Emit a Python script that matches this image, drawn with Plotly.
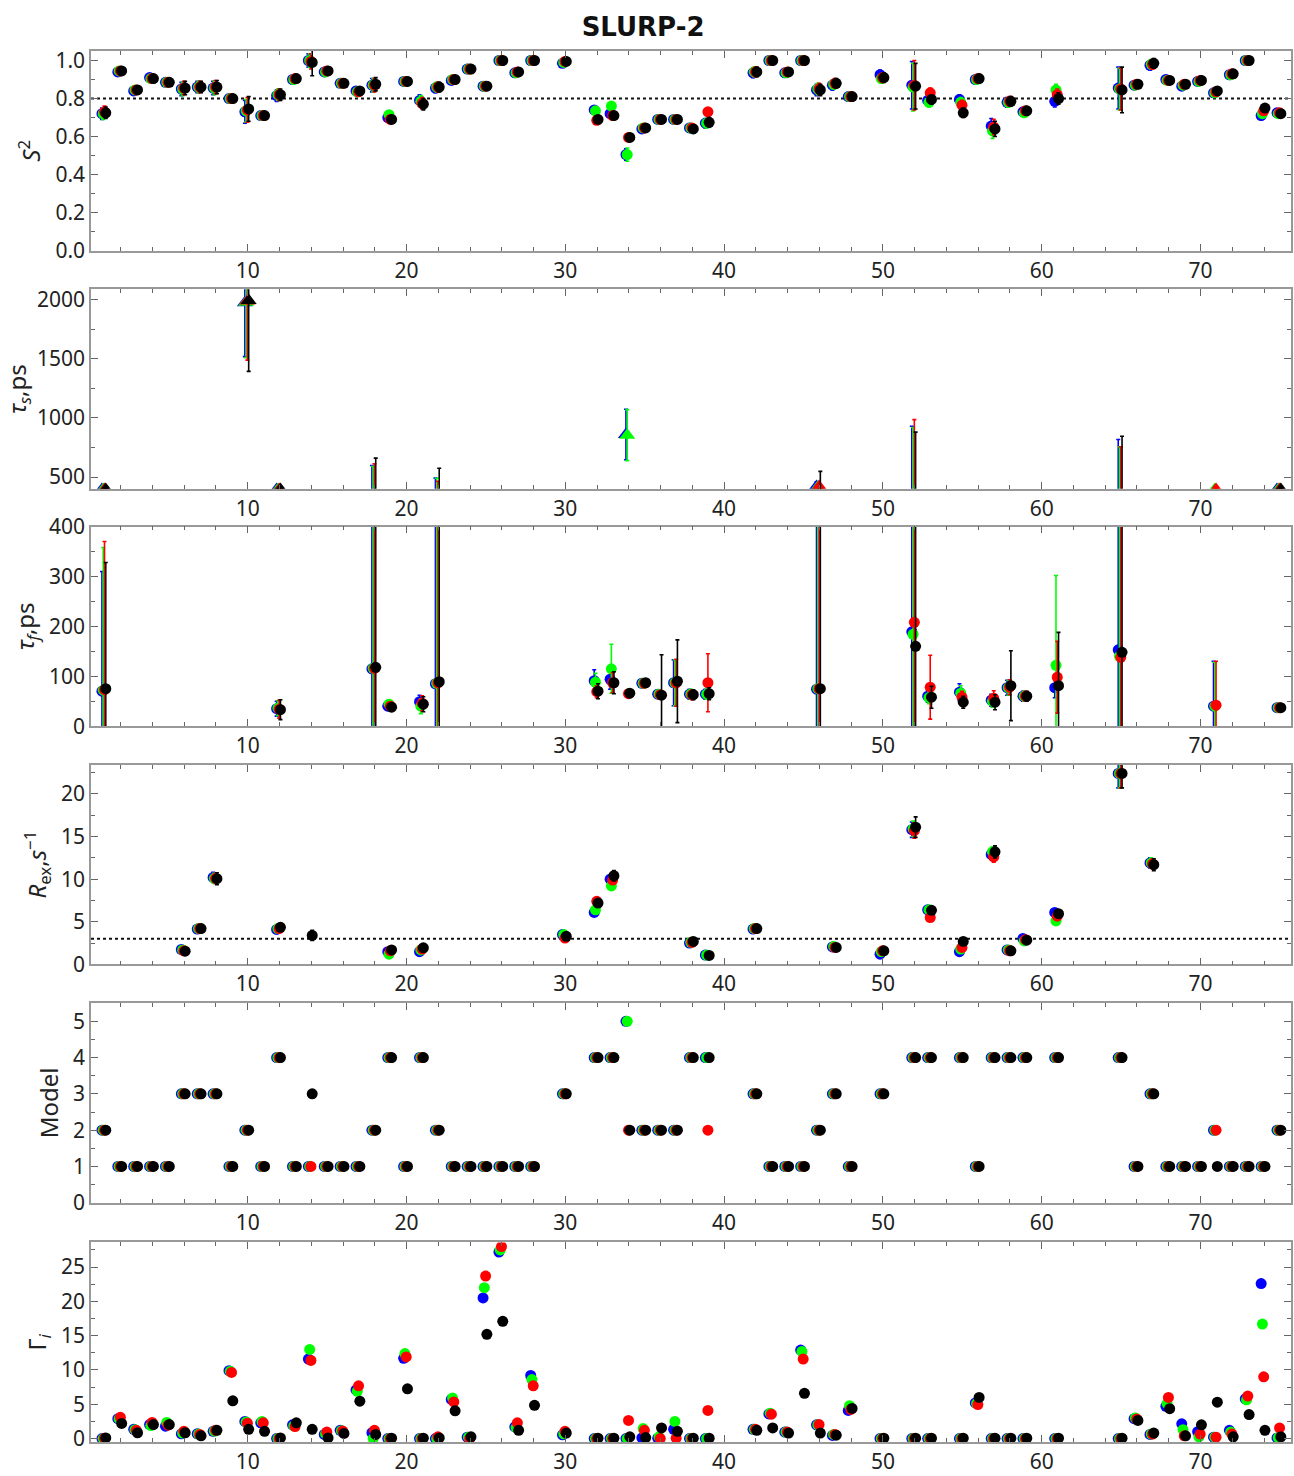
import plotly.graph_objects as go

# ---------------- DATA ----------------
RES = [1, 2, 3, 4, 5, 6, 7, 8, 9, 10, 11, 12, 13, 14, 15, 16, 17, 18, 19, 20, 21, 22, 23, 24, 25, 26, 27, 28,
       30, 32, 33, 34, 35, 36, 37, 38, 39, 42, 43, 44, 45, 46, 47, 48, 50, 52, 53, 55, 56, 57, 58, 59, 61,
       65, 66, 67, 68, 69, 70, 71, 72, 73, 74, 75]

S2_BLUE = [.72, .94, .84, .91, .885, .85, .86, .855, .80, .73, .71, .815, .90, 1.0, .94, .88, .84, .87, .70, .89,
           .79, .855, .895, .955, .865, 1.0, .935, 1.0, .985, .74, .72, .505, .64, .69, .69, .645, .67, .935, 1.0,
           .935, 1.0, .845, .87, .81, .925, .87, .79, .795, .90, .655, .78, .73, .785, .855, .87, .975, .90, .865,
           .89, .83, .925, 1.0, .71, .725]
S2_GREEN = [.72, .945, .845, .905, .885, .85, .86, .855, .80, .735, .71, .82, .90, 1.0, .94, .88, .835, .87, .715,
            .89, .785, .86, .90, .955, .865, 1.0, .935, 1.0, .99, .735, .76, .505, .645, .69, .69, .645, .67, .94,
            1.0, .935, 1.0, .85, .875, .81, .905, .86, .78, .78, .90, .63, .78, .725, .845, .85, .87, .98, .895,
            .87, .89, .83, .925, 1.0, .72, .72]
S2_RED = [.73, .945, .845, .905, .885, .855, .86, .86, .80, .74, .71, .82, .905, .995, .945, .88, .835, .87, .69,
          .89, .775, .86, .90, .955, .865, 1.0, .94, 1.0, .995, .685, .71, .595, .645, .69, .69, .645, .73, .94,
          1.0, .94, 1.0, .85, .88, .81, .91, .87, .83, .765, .905, .65, .785, .735, .82, .85, .875, .98, .895,
          .875, .895, .835, .93, 1.0, .735, .725]
S2_BLACK = [.725, .945, .845, .905, .885, .855, .86, .86, .80, .745, .71, .82, .905, .99, .945, .88, .84, .875, .69,
            .89, .77, .86, .90, .955, .865, 1.0, .94, 1.0, .995, .69, .71, .595, .645, .69, .69, .64, .675, .94,
            1.0, .94, 1.0, .845, .88, .81, .91, .865, .795, .725, .905, .64, .785, .735, .80, .845, .875, .985,
            .895, .875, .895, .84, .93, 1.0, .75, .72]

S2_ERR_BLUE = [.03, .02, .02, .02, .02, .035, .03, .035, .02, .06, .015, .03, .02, .035, .02, .02, .02, .035, .02,
               .02, .03, .025, .02, .02, .02, .01, .02, .01, .02, .02, .02, .03, .015, .015, .015, .02, .025, .025,
               .01, .02, .01, .03, .025, .02, .025, .125, .025, .025, .02, .04, .025, .02, .03, .11, .02, .025,
               .02, .02, .02, .02, .02, .01, .02, .015]
S2_ERR_GREEN = [.03, .02, .02, .02, .02, .035, .03, .035, .02, .06, .015, .03, .02, .035, .02, .02, .02, .035, .02,
                .02, .03, .025, .02, .02, .02, .01, .02, .01, .02, .02, .02, .035, .015, .015, .015, .02, .025, .025,
                .01, .02, .01, .03, .025, .02, .025, .125, .025, .025, .02, .04, .025, .02, .03, .11, .02, .025,
                .02, .02, .02, .02, .02, .01, .02, .015]
S2_ERR_RED = [.03, .02, .02, .02, .02, .035, .03, .035, .02, .065, .015, .03, .02, .04, .02, .02, .02, .035, .02,
              .02, .03, .025, .02, .02, .02, .01, .02, .01, .02, .02, .02, .015, .015, .015, .015, .02, .015, .025,
              .01, .02, .01, .03, .025, .02, .025, .13, .025, .025, .02, .04, .025, .02, .03, .11, .02, .025,
              .02, .02, .02, .02, .02, .01, .02, .015]
S2_ERR_BLACK = [.03, .02, .02, .02, .02, .035, .03, .035, .02, .065, .015, .03, .02, .07, .02, .02, .02, .035, .02,
                .02, .03, .025, .02, .02, .02, .01, .02, .01, .02, .02, .02, .015, .015, .015, .015, .02, .025, .025,
                .01, .02, .01, .03, .025, .02, .025, .12, .025, .025, .02, .04, .025, .02, .03, .12, .02, .025,
                .02, .02, .02, .02, .02, .01, .02, .015]

S2_THRESHOLD = 0.8
REX_THRESHOLD = 3.0

# tau_s (ps)
TS_RES_BLUE = [1, 10, 12, 18, 22, 34, 46, 52, 65, 75]
TS_BLUE = [395, 1975, 395, 250, 250, 860, 420, 250, 250, 395]
TS_ERR_BLUE = [10, 455, 10, 348, 242, 214, 40, 680, 568, 10]
TS_RES_GREEN = [1, 10, 12, 18, 22, 34, 46, 52, 65, 71, 75]
TS_GREEN = [395, 1980, 395, 250, 250, 855, 415, 250, 250, 395, 395]
TS_ERR_GREEN = [10, 470, 10, 340, 240, 216, 20, 669, 507, 10, 10]
TS_RES_RED = [1, 10, 12, 18, 22, 46, 52, 65, 71, 75]
TS_RED = [395, 1990, 395, 250, 250, 420, 250, 250, 395, 395]
TS_ERR_RED = [10, 500, 10, 362, 214, 20, 736, 507, 10, 10]
TS_RES_BLACK = [1, 10, 12, 18, 22, 46, 52, 65, 75]
TS_BLACK = [395, 1995, 395, 250, 250, 250, 250, 250, 395]
TS_ERR_BLACK = [10, 600, 10, 410, 325, 298, 630, 596, 10]

# tau_f (ps)
TF_RES_BLUE = [1, 12, 18, 19, 21, 22, 32, 33, 35, 36, 37, 38, 39, 46, 52, 53, 55, 57, 58, 59, 61, 65, 71, 75]
TF_BLUE = [70, 35, 115, 40, 49, 85, 91, 94, 86, 64, 87, 64, 64, 74, 189, 60, 68, 52, 77, 60, 77, 153, 40, 37]
TF_ERR_BLUE = [240, 15, 600, 8, 13, 600, 22, 20, 8, 8, 46, 10, 10, 600, 600, 12, 17, 12, 15, 10, 20, 600, 90, 7]
TF_RES_GREEN = [1, 12, 18, 19, 21, 22, 32, 33, 35, 36, 37, 38, 39, 46, 52, 53, 55, 57, 58, 59, 61, 65, 71, 75]
TF_GREEN = [72, 36, 116, 44, 40, 86, 88, 115, 86, 64, 87, 64, 64, 75, 184, 57, 66, 50, 77, 60, 122, 140, 40, 37]
TF_ERR_GREEN = [286, 15, 600, 8, 15, 600, 18, 49, 8, 8, 46, 10, 10, 600, 600, 12, 15, 12, 15, 10, 180, 600, 88, 7]
TF_RES_RED = [1, 12, 18, 19, 21, 22, 32, 33, 34, 35, 36, 37, 38, 39, 46, 52, 53, 55, 57, 58, 59, 61, 65, 71, 75]
TF_RED = [73, 34, 116, 40, 46, 87, 69, 87, 65, 86, 63, 87, 63, 87, 75, 208, 78, 58, 56, 78, 60, 98, 138, 42, 37]
TF_ERR_RED = [297, 18, 600, 8, 15, 600, 12, 20, 5, 8, 8, 47, 10, 58, 600, 600, 64, 12, 15, 15, 10, 72, 600, 88, 7]
TF_RES_BLACK = [1, 12, 18, 19, 21, 22, 32, 33, 34, 35, 36, 37, 38, 39, 46, 52, 53, 55, 57, 58, 59, 61, 65, 75]
TF_BLACK = [75, 33, 118, 38, 44, 89, 70, 87, 66, 87, 62, 90, 63, 65, 75, 160, 58, 48, 48, 81, 60, 81, 148, 37]
TF_ERR_BLACK = [253, 20, 600, 8, 15, 600, 15, 22, 5, 8, 81, 83, 10, 12, 600, 600, 22, 12, 15, 70, 10, 107, 600, 7]

# R_ex (s^-1)
RX_RES_BLUE = [6, 7, 8, 12, 19, 21, 30, 32, 33, 38, 39, 42, 47, 50, 52, 53, 55, 57, 58, 59, 61, 65, 67]
RX_BLUE = [1.75, 4.15, 10.2, 4.1, 1.5, 1.5, 3.5, 6.1, 10.0, 2.5, 1.1, 4.15, 2.05, 1.2, 15.8, 6.4, 1.5, 12.9, 1.7,
           3.05, 6.1, 22.4, 11.9]
RX_ERR_BLUE = [.3, .4, .6, .4, .3, .3, .3, .3, .5, .2, .2, .4, .2, .2, .9, .4, .3, .6, .2, .2, .4, 1.7, .6]
RX_RES_GREEN = [6, 7, 8, 12, 19, 21, 30, 32, 33, 38, 39, 42, 47, 50, 52, 53, 55, 57, 58, 59, 61, 65, 67]
RX_GREEN = [1.7, 4.2, 10.1, 4.2, 1.2, 1.7, 3.5, 6.4, 9.2, 2.6, 1.1, 4.2, 2.1, 1.5, 15.9, 6.4, 1.8, 13.2, 1.7, 2.75,
            5.1, 22.4, 11.9]
RX_ERR_GREEN = [.3, .4, .6, .4, .3, .3, .3, .3, .5, .2, .2, .4, .2, .2, .9, .4, .3, .6, .2, .2, .4, 1.7, .6]
RX_RES_RED = [6, 7, 8, 12, 19, 21, 30, 32, 33, 38, 42, 47, 50, 52, 53, 55, 57, 58, 59, 61, 65, 67]
RX_RED = [1.6, 4.2, 10.1, 4.2, 1.6, 1.8, 3.1, 7.4, 9.9, 2.6, 4.2, 2.0, 1.6, 15.7, 5.5, 2.0, 12.6, 1.6, 2.9, 5.66,
          22.4, 11.8]
RX_ERR_RED = [.3, .4, .6, .4, .3, .3, .3, .3, .5, .2, .4, .2, .2, .9, .4, .3, .6, .2, .2, .4, 1.7, .6]
RX_RES_BLACK = [6, 7, 8, 12, 14, 19, 21, 30, 32, 33, 38, 39, 42, 47, 50, 52, 53, 55, 57, 58, 59, 61, 65, 67]
RX_BLACK = [1.55, 4.2, 10.05, 4.35, 3.4, 1.7, 1.95, 3.3, 7.2, 10.4, 2.7, 1.05, 4.2, 2.0, 1.6, 16.1, 6.35, 2.7, 13.2,
            1.6, 2.85, 5.95, 22.4, 11.7]
RX_ERR_BLACK = [.3, .4, .7, .4, .6, .3, .3, .3, .3, .6, .2, .2, .4, .2, .2, 1.2, .4, .3, .7, .2, .2, .4, 1.7, .7]

# Model number
MODEL_BLUE = [2, 1, 1, 1, 1, 3, 3, 3, 1, 2, 1, 4, 1, 1, 1, 1, 1, 2, 4, 1, 4, 2, 1, 1, 1, 1, 1, 1, 3, 4, 4, 5, 2, 2,
              2, 4, 4, 3, 1, 1, 1, 2, 3, 1, 3, 4, 4, 4, 1, 4, 4, 4, 4, 4, 1, 3, 1, 1, 1, 2, 1, 1, 1, 2]
MODEL_GREEN = [2, 1, 1, 1, 1, 3, 3, 3, 1, 2, 1, 4, 1, 1, 1, 1, 1, 2, 4, 1, 4, 2, 1, 1, 1, 1, 1, 1, 3, 4, 4, 5, 2, 2,
               2, 4, 4, 3, 1, 1, 1, 2, 3, 1, 3, 4, 4, 4, 1, 4, 4, 4, 4, 4, 1, 3, 1, 1, 1, 2, 1, 1, 1, 2]
MODEL_RED = [2, 1, 1, 1, 1, 3, 3, 3, 1, 2, 1, 4, 1, 1, 1, 1, 1, 2, 4, 1, 4, 2, 1, 1, 1, 1, 1, 1, 3, 4, 4, 2, 2, 2,
             2, 4, 2, 3, 1, 1, 1, 2, 3, 1, 3, 4, 4, 4, 1, 4, 4, 4, 4, 4, 1, 3, 1, 1, 1, 2, 1, 1, 1, 2]
MODEL_BLACK = [2, 1, 1, 1, 1, 3, 3, 3, 1, 2, 1, 4, 1, 3, 1, 1, 1, 2, 4, 1, 4, 2, 1, 1, 1, 1, 1, 1, 3, 4, 4, 2, 2, 2,
               2, 4, 4, 3, 1, 1, 1, 2, 3, 1, 3, 4, 4, 4, 1, 4, 4, 4, 4, 4, 1, 3, 1, 1, 1, 1, 1, 1, 1, 2]

# Gamma_i
GAMMA_BLUE = [0, 2.9, 1.35, 2.05, 1.8, 0.7, 0.7, 1.05, 9.9, 2.5, 2.3, 0, 2.0, 11.6, 0.6, 1.2, 7.1, 0.85, 0, 11.7, 0,
              0, 5.7, 0.2, 20.5, 27.2, 1.7, 9.2, 0.55, 0, 0, 0, 0.1, 0.05, 1.35, 0, 0, 1.35, 3.6, 0.95, 12.9, 2.0,
              0.45, 4.1, 0, 0, 0, 0, 5.2, 0, 0, 0, 0, 0, 2.9, 0.6, 4.7, 2.15, 1.0, 0.2, 1.2, 5.8, 22.6, 0.1]
GAMMA_GREEN = [0, 2.9, 1.3, 1.9, 2.35, 0.8, 0.65, 1.1, 9.8, 2.4, 2.5, 0, 1.85, 13.0, 0.7, 1.15, 6.9, 0, 0, 12.4, 0,
               0, 5.9, 0.2, 22.0, 27.5, 1.6, 8.6, 0.7, 0, 0, 0, 1.45, 0.25, 2.5, 0, 0, 1.35, 3.7, 0.95, 12.7, 2.0,
               0.6, 4.8, 0, 0, 0, 0, 5.1, 0, 0, 0, 0, 0, 3.0, 0.65, 5.1, 1.3, 0.25, 0.2, 0.95, 5.65, 16.7, 0.15]
GAMMA_RED = [0.05, 3.1, 1.2, 2.35, 1.95, 1.05, 0.6, 1.2, 9.65, 2.25, 2.3, 0, 1.75, 11.4, 0.95, 1.1, 7.7, 1.2, 0,
             11.9, 0, 0.25, 5.35, 0, 23.7, 28.0, 2.3, 7.7, 1.05, 0, 0, 2.65, 1.2, 0, 0.05, 0, 4.1, 1.35, 3.55, 0.95,
             11.6, 2.05, 0.6, 4.25, 0, 0, 0, 0, 4.95, 0, 0, 0, 0, 0, 2.85, 0.65, 6.0, 0.4, 0.65, 0.2, 0.65, 6.2,
             9.0, 1.55]
GAMMA_BLACK = [0.1, 2.2, 0.85, 2.05, 2.05, 0.85, 0.4, 1.2, 5.5, 1.35, 1.05, 0.1, 2.3, 1.35, 0.1, 0.75, 5.45, 0.6,
               0.05, 7.25, 0.05, 0.1, 4.05, 0.25, 15.2, 17.1, 1.2, 4.85, 0.8, 0.05, 0.05, 0.25, 0.15, 1.55, 1.05,
               0.05, 0.05, 1.2, 1.55, 0.8, 6.6, 0.8, 0.5, 4.4, 0.05, 0.05, 0.05, 0.05, 6.0, 0.05, 0.05, 0.05, 0.05,
               0.05, 2.65, 0.8, 4.35, 0.4, 2.0, 5.3, 0.25, 3.5, 1.2, 0.25]

TITLE = "SLURP-2"
Y_TITLES = ["<i>S</i><sup>2</sup>", "<i>τ<sub>s</sub></i>,ps", "<i>τ<sub>f</sub></i>,ps",
            "<i>R</i><sub>ex</sub>,<i>s</i><sup>−1</sup>", "Model", "Γ<sub><i>i</i></sub>"]
X_TICKS = [10, 20, 30, 40, 50, 60, 70]

# ---------------- STYLE ----------------
COLORS = {"blue": "#0000ff", "green": "#00ff00", "red": "#ff0000", "black": "#000000"}
OFFSETS = {"blue": -0.18, "green": -0.1, "red": -0.02, "black": 0.06}
ORDER = ["blue", "green", "red", "black"]
FONT = "Noto Sans"

W, H = 1294, 1476
ML, MR, MT, MB = 91, 1, 51, 24
PH = H - MT - MB
PANELS_PX = [(51, 252), (291, 492), (530, 731), (770, 971), (1010, 1211), (1251, 1452)]
Y_RANGES = [[0, 1.05], [400, 2090], [0, 400], [0, 23.4], [0, 5.5], [-0.5, 28.6]]
Y_DTICK = [0.2, 500, 100, 5, 1, 5]
X_RANGE = [0.13, 75.7]

fig = go.Figure()


def axname(kind, i):
    return kind if i == 1 else f"{kind}{i}"


def add(panel, name, res, vals, errs=None, symbol="circle", size=11):
    xs = [r + OFFSETS[name] for r in res]
    kw = {}
    if errs is not None:
        kw["error_y"] = dict(type="data", array=errs, visible=True, color=COLORS[name],
                             thickness=1.6, width=2)
    fig.add_trace(go.Scatter(
        x=xs, y=vals, mode="markers",
        marker=dict(color=COLORS[name], size=size, symbol=symbol, line=dict(width=0)),
        xaxis=axname("x", panel), yaxis=axname("y", panel), showlegend=False, cliponaxis=True, **kw))


S2 = {"blue": (S2_BLUE, S2_ERR_BLUE), "green": (S2_GREEN, S2_ERR_GREEN),
      "red": (S2_RED, S2_ERR_RED), "black": (S2_BLACK, S2_ERR_BLACK)}
TS = {"blue": (TS_RES_BLUE, TS_BLUE, TS_ERR_BLUE), "green": (TS_RES_GREEN, TS_GREEN, TS_ERR_GREEN),
      "red": (TS_RES_RED, TS_RED, TS_ERR_RED), "black": (TS_RES_BLACK, TS_BLACK, TS_ERR_BLACK)}
TF = {"blue": (TF_RES_BLUE, TF_BLUE, TF_ERR_BLUE), "green": (TF_RES_GREEN, TF_GREEN, TF_ERR_GREEN),
      "red": (TF_RES_RED, TF_RED, TF_ERR_RED), "black": (TF_RES_BLACK, TF_BLACK, TF_ERR_BLACK)}
RX = {"blue": (RX_RES_BLUE, RX_BLUE, RX_ERR_BLUE), "green": (RX_RES_GREEN, RX_GREEN, RX_ERR_GREEN),
      "red": (RX_RES_RED, RX_RED, RX_ERR_RED), "black": (RX_RES_BLACK, RX_BLACK, RX_ERR_BLACK)}
MD = {"blue": MODEL_BLUE, "green": MODEL_GREEN, "red": MODEL_RED, "black": MODEL_BLACK}
GM = {"blue": GAMMA_BLUE, "green": GAMMA_GREEN, "red": GAMMA_RED, "black": GAMMA_BLACK}

for n in ORDER:
    add(1, n, RES, S2[n][0], S2[n][1])
for n in ORDER:
    add(2, n, TS[n][0], TS[n][1], TS[n][2], symbol="triangle-up", size=14)
for n in ORDER:
    add(3, n, TF[n][0], TF[n][1], TF[n][2])
for n in ORDER:
    add(4, n, RX[n][0], RX[n][1], RX[n][2])
for n in ORDER:
    add(5, n, RES, MD[n])
for n in ORDER:
    add(6, n, RES, GM[n])

layout = dict(
    width=W, height=H, margin=dict(l=ML, r=MR, t=MT, b=MB),
    paper_bgcolor="white", plot_bgcolor="white",
    font=dict(family=FONT, size=21, color="#222"),
    title=dict(text=f"<b>{TITLE}</b>", x=0.497, xref="container", y=1 - 27 / H, yref="container",
               xanchor="center", yanchor="middle", font=dict(family="DejaVu Sans", size=26, color="#111")),
    shapes=[
        dict(type="line", xref="x domain", yref="y", x0=0, x1=1, y0=S2_THRESHOLD, y1=S2_THRESHOLD,
             line=dict(color="#111", width=2, dash="dot"), layer="below"),
        dict(type="line", xref="x4 domain", yref="y4", x0=0, x1=1, y0=REX_THRESHOLD, y1=REX_THRESHOLD,
             line=dict(color="#111", width=2, dash="dot"), layer="below"),
    ],
)

for i, (top, bot) in enumerate(PANELS_PX, start=1):
    dom = [(H - MB - bot) / PH, (H - MB - top) / PH]
    xk = "xaxis" if i == 1 else f"xaxis{i}"
    yk = "yaxis" if i == 1 else f"yaxis{i}"
    layout[xk] = dict(
        domain=[0, 1], anchor=axname("y", i), range=X_RANGE, tickvals=X_TICKS,
        ticks="inside", ticklen=7, tickwidth=1, tickcolor="#666", mirror="allticks",
        showline=True, linecolor="#999", linewidth=1.5, showgrid=False, zeroline=False,
        minor=dict(dtick=2, tick0=0, ticks="inside", ticklen=4, tickcolor="#666", showgrid=False),
        tickfont=dict(family=FONT, size=21, color="#222"))
    ykw = dict(
        domain=dom, anchor=axname("x", i), range=Y_RANGES[i - 1], dtick=Y_DTICK[i - 1], tick0=0,
        ticks="inside", ticklen=7, tickwidth=1, tickcolor="#666", mirror="allticks",
        showline=True, linecolor="#999", linewidth=1.5, showgrid=False, zeroline=False,
        minor=dict(dtick=Y_DTICK[i - 1] / 2, tick0=0, ticks="inside", ticklen=4, tickcolor="#666",
                   showgrid=False),
        tickfont=dict(family=FONT, size=21, color="#222"),
        title=dict(text=Y_TITLES[i - 1], font=dict(family=FONT, size=24, color="#222"), standoff=8))
    if i == 1:
        ykw["tickformat"] = ".1f"
    layout[yk] = ykw

fig.update_layout(**layout)
fig.write_html("out.html")
